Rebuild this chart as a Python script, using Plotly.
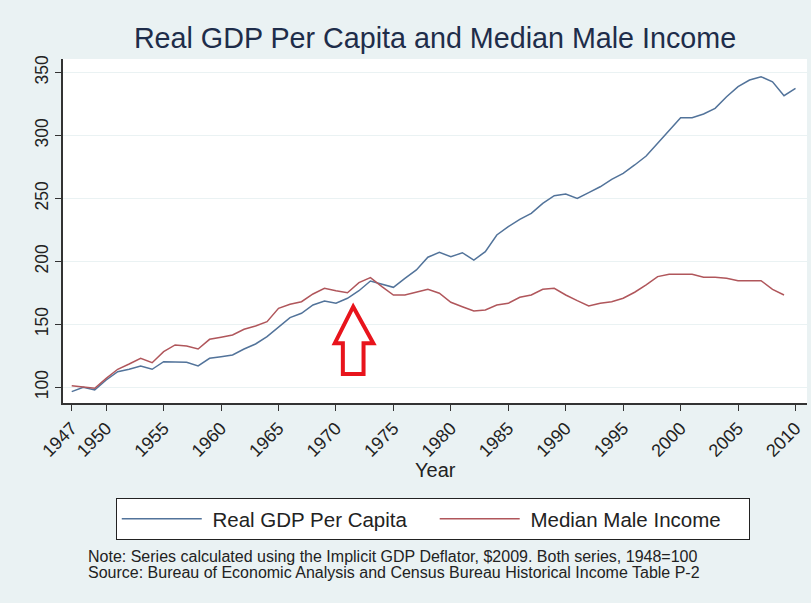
import plotly.graph_objects as go

# data (index, 1948 = 100)
years = list(range(1947, 2011))
gdp_per_capita = [
    96.5, 100.0, 97.9, 105.8, 112.4, 114.3, 116.9, 114.3, 120.3, 120.3,
    119.8, 116.9, 123.0, 124.3, 125.7, 130.4, 134.4, 140.2, 147.4, 155.3,
    158.8, 165.4, 168.5, 166.7, 170.7, 176.7, 184.4, 182.1, 179.4, 186.5,
    193.2, 203.3, 207.2, 203.7, 206.9, 201.1, 207.7, 221.0, 227.6, 233.4,
    238.2, 246.1, 252.2, 253.5, 250.1, 254.6, 259.3, 265.2, 270.0, 276.6,
    283.7, 293.8, 304.4, 314.2, 314.2, 317.1, 321.6, 330.8, 338.8, 344.1,
    346.7, 342.7, 331.6, 337.5,
]
median_male_income = [
    101.3, 100.0, 99.2, 107.1, 114.3, 118.5, 123.0, 119.5, 128.3, 133.6,
    132.8, 130.4, 138.1, 139.7, 141.5, 146.1, 148.7, 152.1, 162.7, 165.9,
    168.0, 174.1, 178.6, 176.7, 175.1, 183.1, 187.1, 179.9, 173.3, 173.3,
    175.5, 177.8, 174.7, 167.5, 164.0, 160.6, 161.4, 165.4, 166.7, 171.5,
    173.3, 177.8, 178.6, 173.3, 168.8, 164.6, 166.7, 168.0, 170.7, 175.5,
    181.3, 187.9, 189.8, 189.8, 189.8, 187.4, 187.4, 186.6, 184.7, 184.7,
    184.7, 177.8, 173.3, None,
]
x_ticks = [1947, 1950, 1955, 1960, 1965, 1970, 1975, 1980, 1985, 1990,
           1995, 2000, 2005, 2010]
y_ticks = [100, 150, 200, 250, 300, 350]

note_lines = [
    "Note: Series calculated using the Implicit GDP Deflator, $2009. Both series, 1948=100",
    "Source: Bureau of Economic Analysis and Census Bureau Historical Income Table P-2",
]

font = "Liberation Sans, Arial, sans-serif"
nb = "\u00a0"

fig = go.Figure()
fig.add_trace(go.Scatter(x=years, y=gdp_per_capita, mode="lines",
                         name=nb + "Real GDP Per Capita" + nb * 4,
                         line=dict(color="#52739a", width=1.5)))
fig.add_trace(go.Scatter(x=years, y=median_male_income, mode="lines",
                         name=nb + "Median Male Income" + nb * 4,
                         line=dict(color="#b0565b", width=1.5)))

# red outlined arrow pointing at the early 1970s
fig.add_shape(type="path",
              path="M 1971.5,164 L 1973.25,135 L 1972.4,135 L 1972.4,110.6 "
                   "L 1970.6,110.6 L 1970.6,135 L 1969.9,135 Z",
              xref="x", yref="y", line=dict(color="#e8141c", width=4),
              fillcolor="white")

fig.add_annotation(text="Year", x=0.5, y=-0.195, xref="paper", yref="paper",
                   yanchor="middle", showarrow=False,
                   font=dict(size=20, color="#222"))
for i, line in enumerate(note_lines):
    fig.add_annotation(text=line, x=0.031, y=-0.445 - i * 0.047,
                       xref="paper", yref="paper", xanchor="left",
                       yanchor="middle", showarrow=False,
                       font=dict(size=16, color="#222"))

fig.update_layout(
    width=811, height=603,
    margin=dict(l=63, r=4, t=59, b=200),
    paper_bgcolor="#eaf2f3", plot_bgcolor="white",
    font=dict(family=font, color="#222"),
    title=dict(text="Real GDP Per Capita and Median Male Income",
               x=0.5, xref="paper", xanchor="center",
               y=0.937, yanchor="middle",
               font=dict(size=28.7, color="#1e2d4a")),
    legend=dict(orientation="h", x=0.497, xanchor="center",
                y=-0.276, yanchor="top",
                bgcolor="white", bordercolor="#222", borderwidth=1,
                itemwidth=80,
                font=dict(size=20.5, color="#222")),
    showlegend=True,
)
fig.update_xaxes(range=[1946.24, 2011.0], tickvals=x_ticks, tickangle=-45,
                 showgrid=False, zeroline=False, showline=True,
                 linecolor="#333", linewidth=1.5, ticks="outside",
                 ticklen=6, tickcolor="#333", tickfont=dict(size=18))
fig.update_yaxes(range=[87.5, 360.8], tickvals=y_ticks, tickangle=-90,
                 showgrid=True, gridcolor="#eaf2f3", gridwidth=1,
                 zeroline=False, showline=True, linecolor="#333",
                 linewidth=1.5, ticks="outside", ticklen=6, tickcolor="#333",
                 tickfont=dict(size=17.5))

fig.write_html("out.html", config={"displayModeBar": False},
               post_script="document.body.style.margin='0';")
